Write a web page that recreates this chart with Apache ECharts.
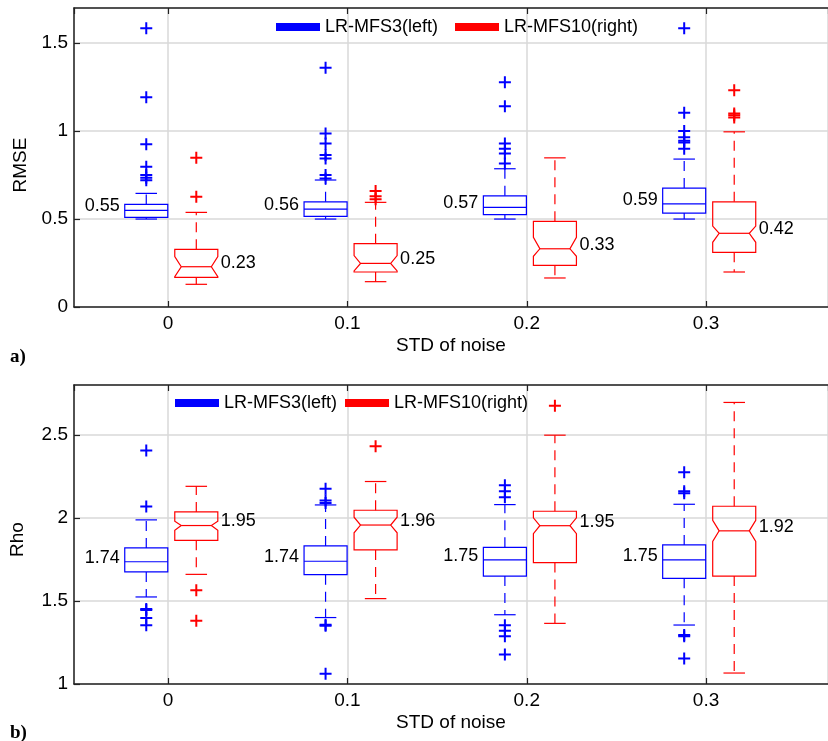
<!DOCTYPE html>
<html>
<head>
<meta charset="utf-8">
<script src="https://cdn.jsdelivr.net/npm/echarts@6/dist/echarts.min.js"></script>
<style>
  html, body { margin: 0; padding: 0; background: #fff; }
  #main { width: 828px; height: 741px; }
</style>
</head>
<body>
<div id="main"></div>
<script>
// noise levels on the x axis
var noiseLevels = [0, 0.1, 0.2, 0.3]
var nameLeft = 'LR-MFS3(left)'
var nameRight = 'LR-MFS10(right)'

// RMSE panel: [lower whisker, q1, median, q3, upper whisker]
var rmseLeftStats = [
  [0.50, 0.51, 0.549, 0.583, 0.646],
  [0.50, 0.515, 0.556, 0.598, 0.722],
  [0.50, 0.525, 0.566, 0.632, 0.786],
  [0.50, 0.534, 0.586, 0.676, 0.841]
]
var rmseLeftOutliers = [
  [1.585, 1.193, 0.926, 0.797, 0.75, 0.735, 0.72],
  [1.36, 0.987, 0.93, 0.864, 0.845, 0.75, 0.731],
  [1.278, 1.142, 0.93, 0.90, 0.873, 0.816],
  [1.585, 1.104, 1.0, 0.965, 0.945, 0.935, 0.90]
]
var rmseRightStats = [
  [0.129, 0.169, 0.229, 0.328, 0.538],
  [0.144, 0.199, 0.248, 0.36, 0.595],
  [0.165, 0.237, 0.331, 0.487, 0.848],
  [0.199, 0.311, 0.419, 0.598, 0.996]
]
// notch [low, high]
var rmseRightNotch = [
  [0.172, 0.286],
  [0.205, 0.292],
  [0.288, 0.396],
  [0.368, 0.46]
]
var rmseRightOutliers = [
  [0.848, 0.627],
  [0.66, 0.63, 0.612],
  [],
  [1.233, 1.10, 1.09, 1.078]
]

// Rho panel
var rhoLeftStats = [
  [1.524, 1.675, 1.736, 1.819, 1.988],
  [1.40, 1.658, 1.739, 1.831, 2.078],
  [1.417, 1.65, 1.747, 1.823, 2.08],
  [1.355, 1.636, 1.747, 1.837, 2.082]
]
var rhoLeftOutliers = [
  [2.405, 2.068, 1.452, 1.445, 1.398, 1.353],
  [2.175, 2.104, 2.09, 1.357, 1.35, 1.062],
  [2.196, 2.16, 2.124, 1.353, 1.321, 1.287, 1.177],
  [2.275, 2.16, 2.148, 1.295, 1.287, 1.154]
]
var rhoRightStats = [
  [1.66, 1.865, 1.954, 2.036, 2.19],
  [1.514, 1.807, 1.957, 2.046, 2.219],
  [1.365, 1.731, 1.953, 2.04, 2.498],
  [1.066, 1.65, 1.922, 2.07, 2.695]
]
var rhoRightNotch = [
  [1.925, 1.98],
  [1.91, 2.004],
  [1.905, 2.0],
  [1.859, 1.986]
]
var rhoRightOutliers = [
  [1.564, 1.381],
  [2.431],
  [2.675],
  []
]

var BLUE = '#0000ff'
var RED = '#ff0000'
var FONT = 'Liberation Sans'
var LEFT_SHIFT = -0.0122
var RIGHT_SHIFT = 0.0157
var HALF_W = 0.012
var PLUS = 'path://M5,0H7V5H12V7H7V12H5V7H0V5H5Z'

var chart = echarts.init(document.getElementById('main'))

function boxData (stats, notch, shift) {
  return noiseLevels.map(function (x, i) {
    var s = stats[i]
    var n = notch ? notch[i] : [s[2], s[2]]
    return [x + shift, s[0], s[1], s[2], s[3], s[4], n[0], n[1]]
  })
}

function outlierData (outliers, shift) {
  var out = []
  noiseLevels.forEach(function (x, i) {
    outliers[i].forEach(function (v) {
      out.push([x + shift, v])
    })
  })
  return out
}

// draws one notched (or plain) box with dashed whiskers and a median label
function makeRender (notched, labelSide) {
  return function (params, api) {
    var x = api.value(0)
    var lo = api.value(1)
    var q1 = api.value(2)
    var med = api.value(3)
    var q3 = api.value(4)
    var hi = api.value(5)
    var nlo = api.value(6)
    var nhi = api.value(7)
    var color = api.visual('color')
    var cx = api.coord([x, med])[0]
    var hw = api.size([HALF_W, 0])[0]
    var yy = function (v) { return api.coord([x, v])[1] }
    var L = cx - hw
    var R = cx + hw
    var ind = notched ? hw * 0.3 : 0
    var pts
    if (notched) {
      pts = [[L, yy(q3)], [R, yy(q3)], [R, yy(nhi)], [R - ind, yy(med)], [R, yy(nlo)],
        [R, yy(q1)], [L, yy(q1)], [L, yy(nlo)], [L + ind, yy(med)], [L, yy(nhi)]]
    } else {
      pts = [[L, yy(q3)], [R, yy(q3)], [R, yy(q1)], [L, yy(q1)]]
    }
    var thin = { stroke: color, lineWidth: 1.2, fill: null }
    var dash = { stroke: color, lineWidth: 1.2, lineDash: [10, 7] }
    var cap = hw / 2
    var label = labelSide === 'left'
      ? { x: L - 5, align: 'right' }
      : { x: R + 3, align: 'left' }
    return {
      type: 'group',
      children: [
        { type: 'polygon', shape: { points: pts }, style: thin },
        { type: 'line', shape: { x1: L + ind, y1: yy(med), x2: R - ind, y2: yy(med) }, style: thin },
        { type: 'line', shape: { x1: cx, y1: yy(q3), x2: cx, y2: yy(hi) }, style: dash },
        { type: 'line', shape: { x1: cx, y1: yy(q1), x2: cx, y2: yy(lo) }, style: dash },
        { type: 'line', shape: { x1: cx - cap, y1: yy(hi), x2: cx + cap, y2: yy(hi) }, style: thin },
        { type: 'line', shape: { x1: cx - cap, y1: yy(lo), x2: cx + cap, y2: yy(lo) }, style: thin },
        {
          type: 'text',
          x: label.x,
          y: yy(med) - 4,
          style: {
            text: med.toFixed(2),
            fill: '#000',
            fontSize: 18,
            fontFamily: FONT,
            align: label.align,
            verticalAlign: 'middle'
          }
        }
      ]
    }
  }
}

function xAxes (grid) {
  return [
    {
      gridIndex: grid,
      type: 'value',
      min: -0.0525,
      max: 0.368,
      position: 'bottom',
      name: 'STD of noise',
      nameLocation: 'middle',
      nameGap: 29,
      nameTextStyle: { fontSize: 19, color: '#000', fontFamily: FONT },
      axisLine: { onZero: false, lineStyle: { color: '#222', width: 1.5 } },
      axisTick: { inside: true, length: 6, lineStyle: { color: '#222', width: 1.2 } },
      axisLabel: {
        fontSize: 19, color: '#000', fontFamily: FONT, margin: 7,
        showMinLabel: false, showMaxLabel: false,
        formatter: function (v) { return String(+v.toFixed(2)) }
      },
      splitLine: { show: true, lineStyle: { color: '#d9d9d9', width: 1.5 } }
    },
    {
      gridIndex: grid,
      type: 'value',
      min: -0.0525,
      max: 0.368,
      position: 'top',
      axisLine: { onZero: false, lineStyle: { color: '#222', width: 1.5 } },
      axisTick: { inside: true, length: 6, lineStyle: { color: '#222', width: 1.2 } },
      axisLabel: { show: false },
      splitLine: { show: false }
    }
  ]
}

function yAxis (grid, name, min, max, gap, pad) {
  return {
    gridIndex: grid,
    type: 'value',
    min: min,
    max: max,
    interval: 0.5,
    position: 'left',
    name: name,
    nameLocation: 'middle',
    nameGap: gap,
    nameTextStyle: { fontSize: 19, color: '#000', fontFamily: FONT, padding: [0, pad, 0, 0] },
    axisLine: { show: true, onZero: false, lineStyle: { color: '#222', width: 1.5 } },
    axisTick: { show: true, inside: true, length: 6, lineStyle: { color: '#222', width: 1.2 } },
    axisLabel: {
      fontSize: 19, color: '#000', fontFamily: FONT, margin: 6,
      showMaxLabel: false,
      formatter: function (v) { return String(+v.toFixed(2)) }
    },
    splitLine: { show: true, lineStyle: { color: '#d9d9d9', width: 1.5 } }
  }
}

function boxSeries (name, xi, yi, stats, notch, shift, color, side) {
  return {
    name: name,
    type: 'custom',
    xAxisIndex: xi,
    yAxisIndex: yi,
    itemStyle: { color: color },
    renderItem: makeRender(!!notch, side),
    encode: { x: 0, y: [1, 2, 3, 4, 5] },
    data: boxData(stats, notch, shift),
    z: 3
  }
}

function outlierSeries (xi, yi, outliers, shift, color) {
  return {
    name: 'outliers',
    type: 'scatter',
    xAxisIndex: xi,
    yAxisIndex: yi,
    symbol: PLUS,
    symbolSize: 12,
    itemStyle: { color: color, opacity: 1 },
    data: outlierData(outliers, shift),
    z: 4,
    silent: true
  }
}

function legendAt (left, top, gap) {
  return {
    left: left,
    top: top,
    icon: 'rect',
    itemWidth: 44,
    itemHeight: 8,
    itemGap: gap,
    selectedMode: false,
    textStyle: { fontSize: 18, color: '#000', fontFamily: FONT },
    data: [nameLeft, nameRight]
  }
}

chart.setOption({
  animation: false,
  textStyle: { fontFamily: FONT },
  color: [BLUE, RED],
  grid: [
    { left: 74, top: 8, width: 763, height: 299 },
    { left: 74, top: 385, width: 763, height: 299 }
  ],
  legend: [legendAt(271, 13, 17), legendAt(170, 389, 8)],
  xAxis: xAxes(0).concat(xAxes(1)),
  yAxis: [
    yAxis(0, 'RMSE', 0, 1.7, 44, 15),
    yAxis(1, 'Rho', 1, 2.8, 47, 10)
  ],
  graphic: [
    { type: 'text', left: 10, top: 348, style: { text: 'a)', font: 'bold 19px "Liberation Serif"', fill: '#000' } },
    { type: 'text', left: 10, top: 724, style: { text: 'b)', font: 'bold 19px "Liberation Serif"', fill: '#000' } }
  ],
  series: [
    boxSeries(nameLeft, 0, 0, rmseLeftStats, null, LEFT_SHIFT, BLUE, 'left'),
    boxSeries(nameRight, 0, 0, rmseRightStats, rmseRightNotch, RIGHT_SHIFT, RED, 'right'),
    outlierSeries(0, 0, rmseLeftOutliers, LEFT_SHIFT, BLUE),
    outlierSeries(0, 0, rmseRightOutliers, RIGHT_SHIFT, RED),
    boxSeries(nameLeft, 2, 1, rhoLeftStats, null, LEFT_SHIFT, BLUE, 'left'),
    boxSeries(nameRight, 2, 1, rhoRightStats, rhoRightNotch, RIGHT_SHIFT, RED, 'right'),
    outlierSeries(2, 1, rhoLeftOutliers, LEFT_SHIFT, BLUE),
    outlierSeries(2, 1, rhoRightOutliers, RIGHT_SHIFT, RED)
  ]
})
</script>
</body>
</html>
